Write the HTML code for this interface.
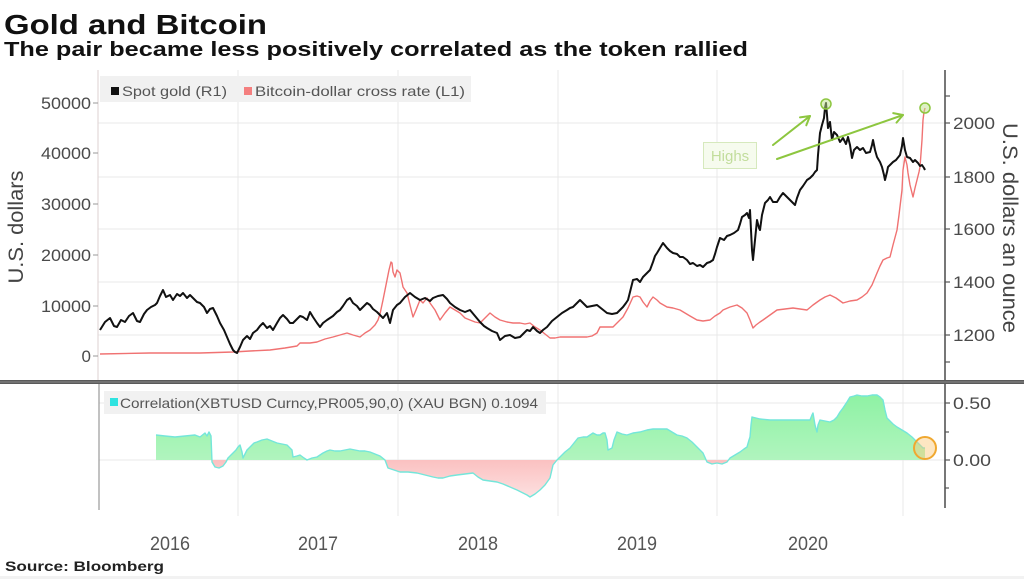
<!DOCTYPE html>
<html><head><meta charset="utf-8"><style>
html,body{margin:0;padding:0;background:#fff;width:1024px;height:579px;overflow:hidden}
svg{display:block}
text{font-family:"Liberation Sans","DejaVu Sans",sans-serif}
</style></head><body>
<svg width="1024" height="579" viewBox="0 0 1024 579" xmlns="http://www.w3.org/2000/svg">
<defs>
<linearGradient id="gg" x1="0" y1="0" x2="0" y2="1">
<stop offset="0" stop-color="#8ef2a4"/><stop offset="1" stop-color="#c4f6cd"/></linearGradient>
<linearGradient id="rg" x1="0" y1="0" x2="0" y2="1">
<stop offset="0" stop-color="#f78a8a"/><stop offset="1" stop-color="#fde0e0"/></linearGradient>
<clipPath id="above"><rect x="90" y="383" width="860" height="77"/></clipPath>
<clipPath id="below"><rect x="90" y="460" width="860" height="60"/></clipPath>
</defs>
<rect width="1024" height="579" fill="#fff"/>
<rect x="0" y="576" width="1024" height="3" fill="#f2f2f2"/>

<!-- titles -->
<text x="4" y="34" font-size="28" font-weight="bold" fill="#111" textLength="263" lengthAdjust="spacingAndGlyphs">Gold and Bitcoin</text>
<text x="4" y="56" font-size="20" font-weight="bold" fill="#111" textLength="744" lengthAdjust="spacingAndGlyphs">The pair became less positively correlated as the token rallied</text>

<!-- top panel grid -->
<g stroke="#e8e8e8" stroke-width="1">
<line x1="98" y1="123" x2="945" y2="123"/><line x1="98" y1="177" x2="945" y2="177"/>
<line x1="98" y1="229" x2="945" y2="229"/><line x1="98" y1="282" x2="945" y2="282"/>
<line x1="98" y1="335" x2="945" y2="335"/>
<line x1="238" y1="70" x2="238" y2="381"/><line x1="398" y1="70" x2="398" y2="381"/>
<line x1="558" y1="70" x2="558" y2="381"/><line x1="717" y1="70" x2="717" y2="381"/>
<line x1="903" y1="70" x2="903" y2="381"/>
<line x1="238" y1="384" x2="238" y2="516"/><line x1="398" y1="384" x2="398" y2="516"/>
<line x1="558" y1="384" x2="558" y2="516"/><line x1="717" y1="384" x2="717" y2="516"/>
<line x1="903" y1="384" x2="903" y2="516"/>
<line x1="99" y1="403" x2="945" y2="403"/><line x1="99" y1="460" x2="945" y2="460"/>
</g>
<!-- left axis top -->
<line x1="98" y1="70" x2="98" y2="381" stroke="#e2d8d8" stroke-width="1.2"/>
<g stroke="#999" stroke-width="1">
<line x1="93" y1="103" x2="98" y2="103"/><line x1="93" y1="153" x2="98" y2="153"/>
<line x1="93" y1="204" x2="98" y2="204"/><line x1="93" y1="255" x2="98" y2="255"/>
<line x1="93" y1="306" x2="98" y2="306"/><line x1="93" y1="356" x2="98" y2="356"/>
</g>
<g font-size="17" fill="#4a4a4a" text-anchor="end">
<text x="91" y="109" textLength="50" lengthAdjust="spacingAndGlyphs">50000</text>
<text x="91" y="159" textLength="50" lengthAdjust="spacingAndGlyphs">40000</text>
<text x="91" y="210" textLength="50" lengthAdjust="spacingAndGlyphs">30000</text>
<text x="91" y="261" textLength="50" lengthAdjust="spacingAndGlyphs">20000</text>
<text x="91" y="312" textLength="50" lengthAdjust="spacingAndGlyphs">10000</text>
<text x="91" y="362">0</text>
</g>
<text transform="translate(23,227) rotate(-90)" font-size="21" fill="#444" text-anchor="middle" textLength="113" lengthAdjust="spacingAndGlyphs">U.S. dollars</text>

<!-- right axis top -->
<line x1="945" y1="70" x2="945" y2="381" stroke="#555" stroke-width="1.6"/>
<g stroke="#555" stroke-width="1.2">
<line x1="945" y1="96" x2="950" y2="96"/><line x1="945" y1="123" x2="950" y2="123"/>
<line x1="945" y1="177" x2="950" y2="177"/><line x1="945" y1="229" x2="950" y2="229"/>
<line x1="945" y1="282" x2="950" y2="282"/><line x1="945" y1="335" x2="950" y2="335"/>
<line x1="945" y1="362" x2="950" y2="362"/>
</g>
<g font-size="17" fill="#4a4a4a">
<text x="953" y="129" textLength="42" lengthAdjust="spacingAndGlyphs">2000</text>
<text x="953" y="183" textLength="42" lengthAdjust="spacingAndGlyphs">1800</text>
<text x="953" y="235" textLength="42" lengthAdjust="spacingAndGlyphs">1600</text>
<text x="953" y="288" textLength="42" lengthAdjust="spacingAndGlyphs">1400</text>
<text x="953" y="341" textLength="42" lengthAdjust="spacingAndGlyphs">1200</text>
</g>
<text transform="translate(1003,228) rotate(90)" font-size="21" fill="#444" text-anchor="middle" textLength="210" lengthAdjust="spacingAndGlyphs">U.S. dollars an ounce</text>

<!-- legend top -->
<rect x="100" y="76" width="371" height="26" fill="#f1f1f1"/>
<rect x="111" y="87" width="8" height="8" fill="#111"/>
<text x="122" y="96" font-size="14" fill="#555" textLength="105" lengthAdjust="spacingAndGlyphs">Spot gold (R1)</text>
<rect x="244" y="87" width="8" height="8" fill="#f47f7f"/>
<text x="255" y="96" font-size="14" fill="#555" textLength="210" lengthAdjust="spacingAndGlyphs">Bitcoin-dollar cross rate (L1)</text>

<!-- bitcoin -->
<polyline fill="none" stroke="#f07272" stroke-width="1.4" stroke-linejoin="round" points="100,354 150,353 200,353 233,352 250,351 270,350 285,348 297,346 300,343 310,343 317,342 325,339 333,337 340,335 347,333 353,335 360,337 365,333 370,330 375,325 378,320 380,314 383,300 385,290 387,280 389,270 391,262 392,263 393,272 395,277 397,270 399,272 400,273 402,282 403,287 405,290 407,293 410,305 413,317 416,310 420,300 423,303 427,298 430,303 435,310 440,320 445,313 450,307 455,310 460,313 465,318 470,320 475,322 480,323 485,318 490,313 495,317 500,320 507,322 513,323 520,323 525,324 530,323 535,327 540,330 545,334 550,338 555,338 560,337 567,337 575,337 587,337 592,336 597,333 600,327 607,327 613,327 618,322 623,317 628,308 633,297 637,296 640,297 643,302 647,307 650,301 653,297 657,300 660,303 667,307 673,308 680,310 685,313 690,316 697,320 703,321 710,320 715,316 720,313 723,310 730,307 737,305 742,308 747,313 750,320 753,328 756,325 760,322 763,320 770,315 777,310 785,309 793,308 800,309 807,310 813,305 820,300 825,297 830,295 836,298 843,303 850,301 857,300 862,297 867,293 872,285 877,273 880,266 883,260 887,258 890,257 893,245 897,230 899,215 902,190 903,170 905,157 907,165 908,173 910,185 913,197 915,188 917,180 919,172 920,167 922,140 923,120 924,112 925,108"/>

<!-- gold -->
<polyline fill="none" stroke="#111" stroke-width="2" stroke-linejoin="round" points="100,330 105,322 110,318 114,326 117,327 121,320 125,322 129,316 133,313 137,321 140,322 144,314 147,310 151,307 155,305 157,303 160,296 163,290 166,297 170,295 173,300 177,294 180,296 183,293 187,298 190,295 193,298 197,302 200,303 204,307 207,313 210,309 213,308 217,316 220,323 224,330 227,337 230,344 233,350 235,352 237,353 240,347 243,340 247,336 250,339 253,333 257,330 260,326 263,323 267,328 270,326 273,330 277,323 280,318 283,315 287,319 290,323 293,323 297,319 300,316 303,317 307,320 310,312 313,317 317,323 320,327 323,323 327,320 330,318 333,316 337,312 340,310 343,306 347,300 350,298 353,303 357,306 360,310 363,307 367,303 370,305 373,309 377,312 380,315 383,318 387,313 390,323 393,310 397,305 400,303 405,297 410,293 415,297 420,300 425,298 430,301 433,298 438,296 443,295 447,299 450,303 455,307 460,310 465,312 470,310 475,316 480,322 484,326 487,328 492,331 497,333 500,340 505,336 510,335 515,338 520,337 524,333 527,330 530,331 533,327 537,331 540,333 543,330 547,327 552,321 557,317 562,313 567,310 570,308 573,307 577,303 580,300 584,304 587,307 592,306 597,305 602,309 607,313 612,314 617,313 620,310 623,307 626,303 628,300 630,292 633,280 637,279 640,282 643,277 647,273 650,270 653,262 655,256 657,253 660,248 663,243 667,248 670,251 673,253 677,254 680,257 683,257 687,260 690,264 693,263 697,266 700,265 703,267 707,263 710,262 713,260 715,254 717,247 720,238 724,240 727,236 730,235 734,233 738,230 740,224 742,217 745,215 747,213 749,218 750,210 751,230 752,250 753,260 755,240 757,220 759,228 760,230 762,215 765,203 768,200 770,197 773,202 777,202 780,197 783,193 786,196 790,200 793,203 795,205 797,198 800,190 803,186 807,180 810,178 813,175 815,172 817,170 818,155 820,133 822,125 824,118 825,108 826,103 827,115 828,128 830,122 832,140 834,132 837,135 840,142 843,138 846,144 848,137 850,145 852,158 854,150 857,147 860,150 863,148 866,153 870,152 872,145 873,140 875,150 877,157 880,162 882,167 884,175 885,180 887,172 888,167 890,165 893,162 896,160 900,155 902,146 903,138 905,150 907,157 910,158 913,162 915,160 918,163 920,166 922,165 924,168 925,170"/>

<!-- highs annotation -->
<rect x="703.5" y="142.5" width="53" height="26" fill="#f6fbee" stroke="#d6e9bd" stroke-width="1"/>
<text x="730" y="161" font-size="15" fill="#c2dd9c" text-anchor="middle">Highs</text>
<g stroke="#8dc63f" stroke-width="2" fill="none" stroke-linecap="round" stroke-linejoin="round">
<line x1="773" y1="145" x2="810" y2="116"/>
<polyline points="800,117.4 810,116 806.3,125.3"/>
<line x1="777" y1="159" x2="903" y2="115"/>
<polyline points="893.2,113.1 903,115 896.5,122.6"/>
</g>
<circle cx="826" cy="104" r="5" fill="rgba(190,225,140,0.5)" stroke="#8dc63f" stroke-width="1.5"/>
<circle cx="925" cy="108" r="5" fill="rgba(190,225,140,0.5)" stroke="#8dc63f" stroke-width="1.5"/>

<!-- separator -->
<rect x="0" y="380" width="1024" height="4" fill="#5a5a5a"/>
<rect x="0" y="381.5" width="1024" height="1" fill="#8a8a8a"/>

<!-- bottom panel axes -->
<line x1="99" y1="384" x2="99" y2="510" stroke="#999" stroke-width="1.2"/>
<line x1="945" y1="384" x2="945" y2="508" stroke="#555" stroke-width="1.6"/>
<g stroke="#555" stroke-width="1.2">
<line x1="945" y1="403" x2="950" y2="403"/><line x1="945" y1="432" x2="949" y2="432"/>
<line x1="945" y1="460" x2="950" y2="460"/><line x1="945" y1="488" x2="949" y2="488"/>
</g>
<g font-size="17" fill="#4a4a4a">
<text x="953" y="409" textLength="38" lengthAdjust="spacingAndGlyphs">0.50</text>
<text x="953" y="466" textLength="38" lengthAdjust="spacingAndGlyphs">0.00</text>
</g>

<!-- correlation -->
<path id="corr" d="M156,460 L156,435 165,436 175,437 185,436 195,435 200,437 205,433 207,436 209,432 211,436 212,462 215,467 219,468 223,466 226,462 228,458 231,455 233,453 236,450 238,447 240,445 242,452 243,458 245,454 247,450 250,447 254,443 257,442 262,440 267,439 272,441 277,443 282,444 287,445 290,448 292,450 293,457 297,456 300,455 304,458 307,460 312,458 317,457 320,455 323,453 327,451 330,450 335,451 340,451 345,450 350,449 355,450 360,451 365,451 370,452 375,454 380,456 385,460 388,468 394,470 400,472 408,472 417,473 425,475 433,477 438,478 443,478 450,476 457,475 465,474 473,473 478,477 483,480 490,481 497,482 503,484 510,487 517,490 523,493 527,495 530,497 535,494 540,490 545,485 550,478 553,465 557,460 560,457 565,452 570,448 574,443 578,438 583,437 587,437 590,435 593,433 597,435 600,435 603,433 605,433 607,440 608,450 610,449 612,448 614,440 617,432 622,434 627,435 633,433 640,432 647,430 653,429 660,429 667,429 672,432 677,435 682,436 687,438 692,442 697,447 700,450 703,453 707,462 712,464 717,463 722,464 727,462 730,458 735,455 740,452 744,449 747,447 749,440 750,437 751,425 752,417 756,418 760,419 770,420 780,420 787,420 795,420 803,420 810,420 812,415 813,413 815,425 817,432 818,425 820,420 825,421 830,422 834,420 837,417 840,412 843,408 847,402 850,397 854,396 857,395 862,396 867,396 872,395 877,395 880,397 883,400 885,410 887,418 890,421 893,424 897,427 902,430 907,433 912,437 917,442 920,445 923,448 925,448 L925,460 Z" fill="url(#gg)" clip-path="url(#above)"/>
<path d="M156,460 L156,435 165,436 175,437 185,436 195,435 200,437 205,433 207,436 209,432 211,436 212,462 215,467 219,468 223,466 226,462 228,458 231,455 233,453 236,450 238,447 240,445 242,452 243,458 245,454 247,450 250,447 254,443 257,442 262,440 267,439 272,441 277,443 282,444 287,445 290,448 292,450 293,457 297,456 300,455 304,458 307,460 312,458 317,457 320,455 323,453 327,451 330,450 335,451 340,451 345,450 350,449 355,450 360,451 365,451 370,452 375,454 380,456 385,460 388,468 394,470 400,472 408,472 417,473 425,475 433,477 438,478 443,478 450,476 457,475 465,474 473,473 478,477 483,480 490,481 497,482 503,484 510,487 517,490 523,493 527,495 530,497 535,494 540,490 545,485 550,478 553,465 557,460 560,457 565,452 570,448 574,443 578,438 583,437 587,437 590,435 593,433 597,435 600,435 603,433 605,433 607,440 608,450 610,449 612,448 614,440 617,432 622,434 627,435 633,433 640,432 647,430 653,429 660,429 667,429 672,432 677,435 682,436 687,438 692,442 697,447 700,450 703,453 707,462 712,464 717,463 722,464 727,462 730,458 735,455 740,452 744,449 747,447 749,440 750,437 751,425 752,417 756,418 760,419 770,420 780,420 787,420 795,420 803,420 810,420 812,415 813,413 815,425 817,432 818,425 820,420 825,421 830,422 834,420 837,417 840,412 843,408 847,402 850,397 854,396 857,395 862,396 867,396 872,395 877,395 880,397 883,400 885,410 887,418 890,421 893,424 897,427 902,430 907,433 912,437 917,442 920,445 923,448 925,448 L925,460 Z" fill="url(#rg)" clip-path="url(#below)"/>
<polyline fill="none" stroke="#74e6da" stroke-width="1.4" stroke-linejoin="round" points="156,435 165,436 175,437 185,436 195,435 200,437 205,433 207,436 209,432 211,436 212,462 215,467 219,468 223,466 226,462 228,458 231,455 233,453 236,450 238,447 240,445 242,452 243,458 245,454 247,450 250,447 254,443 257,442 262,440 267,439 272,441 277,443 282,444 287,445 290,448 292,450 293,457 297,456 300,455 304,458 307,460 312,458 317,457 320,455 323,453 327,451 330,450 335,451 340,451 345,450 350,449 355,450 360,451 365,451 370,452 375,454 380,456 385,460 388,468 394,470 400,472 408,472 417,473 425,475 433,477 438,478 443,478 450,476 457,475 465,474 473,473 478,477 483,480 490,481 497,482 503,484 510,487 517,490 523,493 527,495 530,497 535,494 540,490 545,485 550,478 553,465 557,460 560,457 565,452 570,448 574,443 578,438 583,437 587,437 590,435 593,433 597,435 600,435 603,433 605,433 607,440 608,450 610,449 612,448 614,440 617,432 622,434 627,435 633,433 640,432 647,430 653,429 660,429 667,429 672,432 677,435 682,436 687,438 692,442 697,447 700,450 703,453 707,462 712,464 717,463 722,464 727,462 730,458 735,455 740,452 744,449 747,447 749,440 750,437 751,425 752,417 756,418 760,419 770,420 780,420 787,420 795,420 803,420 810,420 812,415 813,413 815,425 817,432 818,425 820,420 825,421 830,422 834,420 837,417 840,412 843,408 847,402 850,397 854,396 857,395 862,396 867,396 872,395 877,395 880,397 883,400 885,410 887,418 890,421 893,424 897,427 902,430 907,433 912,437 917,442 920,445 923,448 925,448"/>
<circle cx="925" cy="448" r="11" fill="rgba(250,200,120,0.45)" stroke="#f0a830" stroke-width="2"/>

<!-- legend bottom -->
<rect x="104" y="391" width="442" height="23" fill="#f1f1f1"/>
<rect x="110" y="398" width="8" height="8" fill="#2fe3e0"/>
<text x="120" y="408" font-size="14" fill="#555" textLength="418" lengthAdjust="spacingAndGlyphs">Correlation(XBTUSD Curncy,PR005,90,0) (XAU BGN) 0.1094</text>

<!-- x labels -->
<g font-size="19" fill="#555" text-anchor="middle">
<text x="170" y="550" textLength="40" lengthAdjust="spacingAndGlyphs">2016</text>
<text x="318" y="550" textLength="40" lengthAdjust="spacingAndGlyphs">2017</text>
<text x="478" y="550" textLength="40" lengthAdjust="spacingAndGlyphs">2018</text>
<text x="637" y="550" textLength="40" lengthAdjust="spacingAndGlyphs">2019</text>
<text x="808" y="550" textLength="40" lengthAdjust="spacingAndGlyphs">2020</text>
</g>
<text x="5" y="571" font-size="14" font-weight="bold" fill="#222" textLength="159" lengthAdjust="spacingAndGlyphs">Source: Bloomberg</text>
</svg>
</body></html>
